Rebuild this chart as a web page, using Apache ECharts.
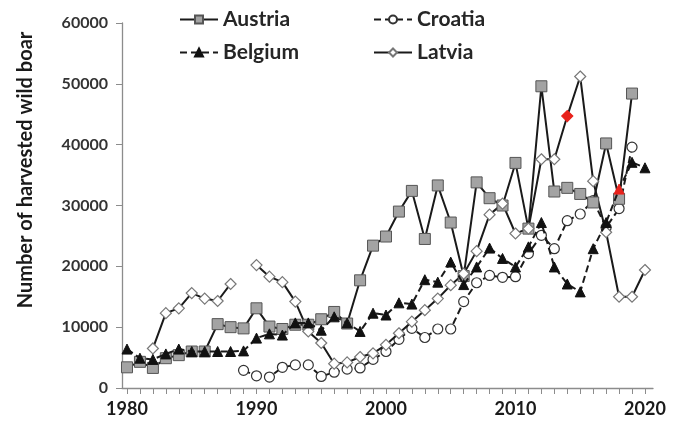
<!DOCTYPE html>
<html><head><meta charset="utf-8">
<script src="https://cdn.jsdelivr.net/npm/echarts@6/dist/echarts.min.js"></script>
<style>html,body{margin:0;padding:0;background:#fff}#c{width:673px;height:422px}</style>
</head><body><div id="c"></div>
<script>
const years = [];
for (let y = 1980; y <= 2020; y++) years.push(y);
const xTickLabels = [1980, 1990, 2000, 2010, 2020];
const yTickLabels = [0, 10000, 20000, 30000, 40000, 50000, 60000];
const austria = [3400,4300,3300,4900,5400,6000,6000,10500,10000,9800,13100,10100,9700,10400,10400,11300,12500,10600,17700,23400,24900,29000,32400,24500,33300,27200,18400,33800,31200,30000,37000,26200,49600,32300,32900,31900,30500,40200,31100,48400,null];
const belgium = [6400,4900,4700,5600,6400,6000,6000,6000,6000,6100,8200,8900,8700,10700,10700,9500,11700,10700,9300,12300,12000,14000,13800,17800,17400,20700,17000,19900,23000,21300,19900,23200,27200,19900,17100,15800,22900,27200,32700,37100,36200];
const croatia = [null,null,null,null,null,null,null,null,null,2900,2000,1800,3400,3800,3800,1900,2600,3100,3300,4700,6000,8000,9800,8300,9700,9700,14200,17300,18500,18200,18300,22100,25100,22900,27500,28600,30800,26400,29500,39600,null];
const latvia = [null,null,6500,12300,13100,15600,14700,14300,17100,null,20200,18300,17400,14200,9300,7400,4000,4200,5100,5700,7100,9000,10900,12800,14700,16900,18800,22500,28500,30300,25400,26200,37600,37600,44700,51200,34000,25600,15000,15000,19400];
const highlightYears = { Latvia: [2014], Belgium: [2018] };

const RED = '#e8221c';
function pairs(name, vals) {
  const hl = highlightYears[name] || [];
  return years.map((y, i) => {
    const v = vals[i];
    if (v === null) return [y, null];
    if (hl.indexOf(y) >= 0) return { value: [y, v], itemStyle: { color: RED, borderColor: RED } };
    return [y, v];
  });
}
const chart = echarts.init(document.getElementById('c'), null, { renderer: 'canvas' });
const FONT = 'Lato';
chart.setOption({
  animation: false,
  backgroundColor: '#fff',
  grid: { left: 122, right: 20, top: 23, bottom: 34, containLabel: false },
  xAxis: {
    type: 'value', min: 1979.614, max: 2020.62,
    axisLine: { show: true, lineStyle: { color: '#8c8c8c', width: 1.3 } },
    axisTick: { show: true, length: 6, inside: false, customValues: years, lineStyle: { color: '#8c8c8c' } },
    axisLabel: { customValues: xTickLabels, margin: 12, fontFamily: FONT, fontWeight: 'bold', fontSize: 18, color: '#1a1a1a', formatter: v => String(v) },
    splitLine: { show: false }
  },
  yAxis: {
    type: 'value', min: 0, max: 60000, interval: 10000,
    axisLine: { show: true, lineStyle: { color: '#8c8c8c', width: 1.3 } },
    axisTick: { show: true, length: 6, lineStyle: { color: '#8c8c8c' } },
    axisLabel: { customValues: yTickLabels, margin: 14, fontFamily: FONT, fontWeight: 'bold', fontSize: 16, color: '#333', formatter: v => String(v) },
    splitLine: { show: false }
  },
  legend: [
    { data: ['Austria', 'Belgium'], orient: 'vertical', left: 174, top: 4, itemGap: 12, itemWidth: 38, itemHeight: 10,
      textStyle: { fontFamily: FONT, fontWeight: 'bold', fontSize: 21, color: '#262626' } },
    { data: ['Croatia', 'Latvia'], orient: 'vertical', left: 368, top: 4, itemGap: 12, itemWidth: 38, itemHeight: 10,
      textStyle: { fontFamily: FONT, fontWeight: 'bold', fontSize: 21, color: '#262626' } }
  ],
  graphic: [{
    type: 'text', x: 26, y: 170, rotation: Math.PI / 2,
    style: { text: 'Number of harvested wild boar', fontFamily: FONT, fontWeight: 'bold', fontSize: 20, fill: '#1a1a1a', textAlign: 'center', textVerticalAlign: 'middle' }
  }],
  series: [
    { name: 'Austria', type: 'line', data: pairs('Austria', austria), symbol: 'rect', symbolSize: 11, connectNulls: false,
      lineStyle: { color: '#1a1a1a', width: 2 }, itemStyle: { color: '#a3a3a3', borderColor: '#555', borderWidth: 1 }, z: 3 },
    { name: 'Belgium', type: 'line', data: pairs('Belgium', belgium), symbol: 'triangle', symbolSize: 10, connectNulls: false,
      lineStyle: { color: '#1a1a1a', width: 2, type: [7, 4] }, itemStyle: { color: '#111', borderColor: '#111', borderWidth: 1 }, z: 4 },
    { name: 'Croatia', type: 'line', data: pairs('Croatia', croatia), symbol: 'circle', symbolSize: 10, connectNulls: false,
      lineStyle: { color: '#1a1a1a', width: 2, type: [7, 4] }, itemStyle: { color: '#fff', borderColor: '#333', borderWidth: 1.2 }, z: 2 },
    { name: 'Latvia', type: 'line', data: pairs('Latvia', latvia), symbol: 'diamond', symbolSize: 11, connectNulls: false,
      lineStyle: { color: '#1a1a1a', width: 2 }, itemStyle: { color: '#fff', borderColor: '#777', borderWidth: 1.2 }, z: 3 }
  ]
});
</script></body></html>
